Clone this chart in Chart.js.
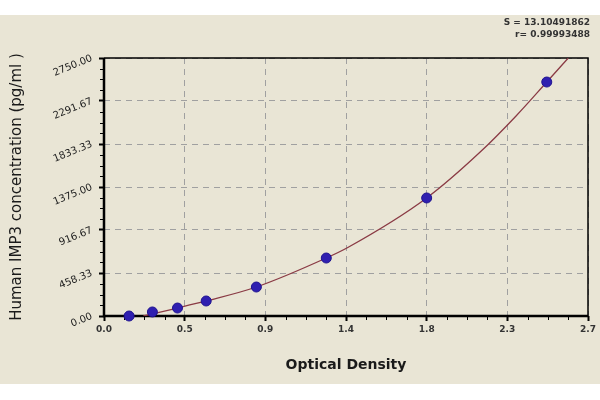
<!DOCTYPE html>
<html>
<head>
<meta charset="utf-8">
<script src="https://cdn.jsdelivr.net/npm/chart.js@4/dist/chart.umd.min.js"></script>
<style>
body{margin:0;background:#fff;width:600px;height:400px;position:relative;overflow:hidden;font-family:"DejaVu Sans",sans-serif}
#panel{position:absolute;left:0;top:15px;width:600px;height:369px;background:#e9e5d5}
#stats{position:absolute;right:10px;top:1px;text-align:right;font-size:9px;font-weight:bold;color:#333;line-height:12px}
canvas{position:absolute;left:0;top:0}
</style>
</head>
<body>
<div id="panel">
	<canvas id="mycanvas" width="600" height="369"></canvas>
	<div id="stats">S = 13.10491862<br>r= 0.99993488</div>
</div>
<script>
// standard points
var odValues   = [0.14, 0.27, 0.41, 0.57, 0.85, 1.24, 1.80, 2.47];
var concValues = [0, 43, 85, 160, 309, 618, 1258, 2494];

// fitted curve, points
var fitOD   = [0.22, 0.41, 0.57, 0.85, 1.24, 1.36, 1.80, 2.10, 2.30, 2.47, 2.59];
var fitConc = [0, 85, 160, 309, 618, 730, 1258, 1750, 2135, 2494, 2750];

// ticks
var xTicks = [0, 0.45, 0.9, 1.35, 1.8, 2.25, 2.7];
var xTickLabels = ['0.0', '0.5', '0.9', '1.4', '1.8', '2.3', '2.7'];
var yTicks = [0, 458.33, 916.67, 1375, 1833.33, 2291.67, 2750];
var yTickLabels = ['0.00', '458.33', '916.67', '1375.00', '1833.33', '2291.67', '2750.00'];

var standards = [];
for (var i in odValues) {
	standards.push({x: odValues[i], y: concValues[i]});
}
var fitLine = [];
for (var j in fitOD) {
	fitLine.push({x: fitOD[j], y: fitConc[j]});
}

// frame + minor ticks
var framePlugin = {
	id: 'frame',
	beforeDatasetsDraw: function(chart) {
		var ctx = chart.ctx, a = chart.chartArea;
		var xs = chart.scales.x, ys = chart.scales.y;
		ctx.save();
		ctx.strokeStyle = '#000';
		// minor ticks
		ctx.lineWidth = 1;
		ctx.beginPath();
		for (var k = 0; k < xTicks.length - 1; k++) {
			for (var m = 1; m < 4; m++) {
				var px = Math.round(xs.getPixelForValue(xTicks[k] + (xTicks[k + 1] - xTicks[k]) * m / 4)) + 0.5;
				ctx.moveTo(px, a.bottom);
				ctx.lineTo(px, a.bottom + 4);
			}
		}
		for (var k2 = 0; k2 < yTicks.length - 1; k2++) {
			for (var m2 = 1; m2 < 4; m2++) {
				var py = Math.round(ys.getPixelForValue(yTicks[k2] + (yTicks[k2 + 1] - yTicks[k2]) * m2 / 4)) + 0.5;
				ctx.moveTo(a.left - 4, py);
				ctx.lineTo(a.left, py);
			}
		}
		ctx.stroke();
		// top / right
		ctx.lineWidth = 1.5;
		ctx.beginPath();
		ctx.moveTo(a.left, a.top);
		ctx.lineTo(a.right, a.top);
		ctx.lineTo(a.right, a.bottom);
		ctx.stroke();
		// axes
		ctx.lineWidth = 2.5;
		ctx.beginPath();
		ctx.moveTo(a.left, a.top);
		ctx.lineTo(a.left, a.bottom);
		ctx.lineTo(a.right, a.bottom);
		ctx.stroke();
		ctx.restore();
	}
};

var ctx = document.getElementById('mycanvas');
var curveChart = new Chart(ctx, {
	type: 'scatter',
	data: {
		datasets: [{
			type: 'line',
			label: 'fit',
			data: fitLine,
			borderColor: '#8a3a44',
			borderWidth: 1.3,
			pointRadius: 0,
			fill: false,
			cubicInterpolationMode: 'monotone',
			order: 2
		}, {
			label: 'standards',
			data: standards,
			backgroundColor: '#2f1fb0',
			borderColor: '#1e1290',
			borderWidth: 1,
			pointRadius: 5,
			pointHoverRadius: 5,
			clip: false,
			order: 1
		}]
	},
	options: {
		responsive: false,
		animation: false,
		layout: {padding: {left: 0, right: 12, top: 43, bottom: 0}},
		plugins: {legend: {display: false}, tooltip: {enabled: false}},
		scales: {
			x: {
				type: 'linear',
				min: 0, max: 2.7,
				afterBuildTicks: function(s) { s.ticks = xTicks.map(function(v){ return {value: v}; }); },
				afterFit: function(s) { s.height = 68; },
				ticks: {
					autoSkip: false, maxRotation: 0,
					font: {family: 'DejaVu Sans', size: 9, weight: 'bold'},
					color: '#333',
					padding: 3,
					callback: function(v, i) { return xTickLabels[i]; }
				},
				grid: {color: '#a0a0a0', lineWidth: 1, tickColor: '#000', tickLength: 5, tickWidth: 2},
				border: {display: false, dash: [6, 5]},
				title: {
					display: true, text: 'Optical Density',
					font: {family: 'DejaVu Sans', size: 14, weight: 'bold'},
					color: '#1a1a1a',
					padding: {top: 0, bottom: 10}
				}
			},
			y: {
				type: 'linear',
				min: 0, max: 2750,
				afterBuildTicks: function(s) { s.ticks = yTicks.map(function(v){ return {value: v}; }); },
				afterFit: function(s) { s.width = 104; },
				ticks: {
					autoSkip: false, minRotation: 22, maxRotation: 22,
					font: {family: 'DejaVu Sans', size: 10},
					color: '#222',
					padding: 7,
					callback: function(v, i) { return yTickLabels[i]; }
				},
				grid: {color: '#a0a0a0', lineWidth: 1, tickColor: '#000', tickLength: 5, tickWidth: 2},
				border: {display: false, dash: [6, 5]},
				title: {
					display: true, text: 'Human IMP3 concentration (pg/ml )',
					font: {family: 'DejaVu Sans', size: 15},
					color: '#1a1a1a',
					padding: {top: 8, bottom: 4}
				}
			}
		}
	},
	plugins: [framePlugin]
});
</script>
</body>
</html>
